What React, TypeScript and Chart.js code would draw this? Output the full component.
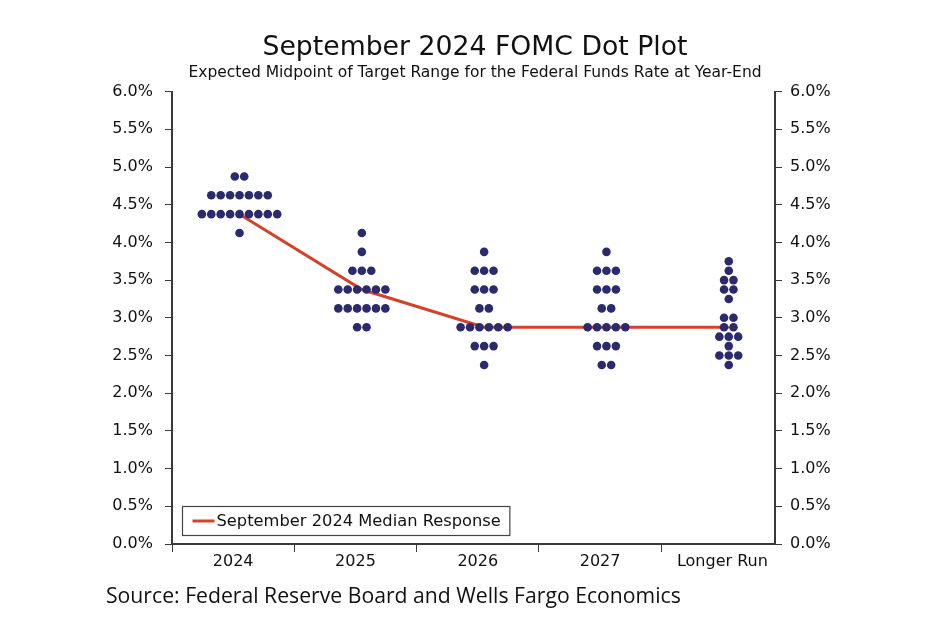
import React, { useEffect, useRef } from 'react';
import { Chart, registerables } from 'chart.js';

Chart.register(...registerables);

// ---------- data ----------
const categories = ['2024', '2025', '2026', '2027', 'Longer Run'];
// [rate (%), number of participants at that rate]
const dots2024 = [[4.875, 2], [4.625, 7], [4.375, 9], [4.125, 1]];
const dots2025 = [[4.125, 1], [3.875, 1], [3.625, 3], [3.375, 6], [3.125, 6], [2.875, 2]];
const dots2026 = [[3.875, 1], [3.625, 3], [3.375, 3], [3.125, 2], [2.875, 6], [2.625, 3], [2.375, 1]];
const dots2027 = [[3.875, 1], [3.625, 3], [3.375, 3], [3.125, 2], [2.875, 5], [2.625, 3], [2.375, 2]];
const dotsLongerRun = [[3.75, 1], [3.625, 1], [3.5, 2], [3.375, 2], [3.25, 1], [3.0, 2], [2.875, 2], [2.75, 3], [2.625, 1], [2.5, 3], [2.375, 1]];
const medianResponse = [4.375, 3.375, 2.875, 2.875, 2.875];
const yTickValues = [0, 0.5, 1, 1.5, 2, 2.5, 3, 3.5, 4, 4.5, 5, 5.5, 6];

const titleText = 'September 2024 FOMC Dot Plot';
const subtitleText = 'Expected Midpoint of Target Range for the Federal Funds Rate at Year-End';
const medianLabel = 'September 2024 Median Response';
const sourceText = 'Source: Federal Reserve Board and Wells Fargo Economics';

// ---------- style / layout constants ----------
const FONT = '"DejaVu Sans", Verdana, sans-serif';
const DOT_COLOR = '#2A2A6C';
const LINE_COLOR = '#D2432B';
const AXIS_COLOR = '#3a3a3a';
const TEXT_COLOR = '#111111';
const DOT_SPACING = 0.077; // x-units between adjacent dots in a row
const DOT_SHIFT = 0.052; // dots sit slightly right of the category centre

const columns = [dots2024, dots2025, dots2026, dots2027, dotsLongerRun];

function buildDots() {
  const pts: { x: number; y: number }[] = [];
  columns.forEach((col, ci) => {
    col.forEach(([rate, count]) => {
      for (let j = 0; j < count; j++) {
        pts.push({ x: ci + DOT_SHIFT + (j - (count - 1) / 2) * DOT_SPACING, y: rate });
      }
    });
  });
  return pts;
}

const insideLegend = {
  id: 'insideLegend',
  afterDraw(chart: any) {
    const ds = chart.data.datasets.find((d: any) => d.type === 'line');
    if (!ds) return;
    const { ctx, chartArea } = chart;
    ctx.save();
    ctx.font = `16.3px ${FONT}`;
    const tw = ctx.measureText(ds.label).width;
    const x = Math.round(chartArea.left + 10) + 0.5;
    const y = Math.round(chartArea.bottom - 38) + 0.5;
    const h = 29;
    const w = 34 + tw + 9;
    ctx.fillStyle = '#ffffff';
    ctx.fillRect(x, y, w, h);
    ctx.strokeStyle = '#444444';
    ctx.lineWidth = 1.2;
    ctx.strokeRect(x, y, w, h);
    ctx.strokeStyle = ds.borderColor;
    ctx.lineWidth = 3;
    ctx.beginPath();
    ctx.moveTo(x + 10, y + h / 2);
    ctx.lineTo(x + 32, y + h / 2);
    ctx.stroke();
    ctx.fillStyle = TEXT_COLOR;
    ctx.textBaseline = 'middle';
    ctx.textAlign = 'left';
    ctx.fillText(ds.label, x + 34, y + h / 2 + 1);
    ctx.restore();
  },
};

export default function App() {
  const canvasRef = useRef<HTMLCanvasElement | null>(null);

  useEffect(() => {
    if (!canvasRef.current) return;
    const chart = new Chart(canvasRef.current, {
      type: 'scatter',
      data: {
        datasets: [
          {
            type: 'scatter',
            label: 'Participants',
            data: buildDots(),
            backgroundColor: DOT_COLOR,
            borderWidth: 0,
            pointRadius: 4.3,
            order: 0,
          } as any,
          {
            type: 'line',
            label: medianLabel,
            data: medianResponse.map((v, i) => ({ x: i + DOT_SHIFT, y: v })),
            borderColor: LINE_COLOR,
            backgroundColor: LINE_COLOR,
            borderWidth: 3,
            pointRadius: 0,
            tension: 0,
            fill: false,
            order: 1,
          } as any,
        ],
      },
      options: {
        responsive: false,
        animation: false,
        layout: { padding: { left: 100, right: 100, top: 0, bottom: 56 } },
        plugins: {
          legend: { display: false },
          tooltip: { enabled: false },
          title: {
            display: true,
            text: titleText,
            color: TEXT_COLOR,
            font: { family: FONT, size: 26.7, weight: 'normal' },
            padding: { top: 32, bottom: 0 },
          },
          subtitle: {
            display: true,
            text: subtitleText,
            color: TEXT_COLOR,
            font: { family: FONT, size: 15.5, weight: 'normal' },
            padding: { top: 0, bottom: 9 },
          },
        },
        scales: {
          x: {
            type: 'linear',
            min: -0.5,
            max: 4.43,
            afterBuildTicks: (scale: any) => {
              scale.ticks = categories.map((_, i) => ({ value: i }));
            },
            afterFit: (scale: any) => {
              scale.height = 30;
            },
            ticks: {
              autoSkip: false,
              maxRotation: 0,
              padding: 0,
              color: TEXT_COLOR,
              font: { family: FONT, size: 16 },
              callback: (v: any) => categories[Math.round(Number(v))] ?? '',
            },
            grid: {
              offset: true,
              drawOnChartArea: false,
              drawTicks: true,
              tickLength: 8,
              tickColor: AXIS_COLOR,
              tickWidth: 1,
            },
            border: { display: true, color: AXIS_COLOR, width: 2 },
          },
          y: {
            type: 'linear',
            position: 'left',
            min: 0,
            max: 6,
            afterBuildTicks: (scale: any) => {
              scale.ticks = yTickValues.map((v) => ({ value: v }));
            },
            afterFit: (scale: any) => {
              scale.width = 72;
            },
            ticks: {
              padding: 12,
              color: TEXT_COLOR,
              font: { family: FONT, size: 16 },
              callback: (v: any) => Number(v).toFixed(1) + '%',
            },
            grid: {
              drawOnChartArea: false,
              tickLength: 7,
              tickColor: AXIS_COLOR,
              tickWidth: 1,
            },
            border: { display: true, color: AXIS_COLOR, width: 2 },
          },
          y2: {
            type: 'linear',
            position: 'right',
            min: 0,
            max: 6,
            afterBuildTicks: (scale: any) => {
              scale.ticks = yTickValues.map((v) => ({ value: v }));
            },
            afterFit: (scale: any) => {
              scale.width = 75;
            },
            ticks: {
              padding: 8,
              color: TEXT_COLOR,
              font: { family: FONT, size: 16 },
              callback: (v: any) => Number(v).toFixed(1) + '%',
            },
            grid: {
              drawOnChartArea: false,
              tickLength: 7,
              tickColor: AXIS_COLOR,
              tickWidth: 1,
            },
            border: { display: true, color: AXIS_COLOR, width: 2 },
          },
        },
      },
      plugins: [insideLegend],
    } as any);
    return () => chart.destroy();
  }, []);

  return (
    <div style={{ position: 'absolute', left: 0, top: 0, width: 950, height: 630, background: '#ffffff' }}>
      <canvas ref={canvasRef} width={950} height={630} style={{ display: 'block' }} />
      <div
        style={{
          position: 'absolute',
          left: 106,
          top: 584,
          fontFamily: '"Open Sans", sans-serif',
          fontSize: 21.2,
          lineHeight: 1,
          color: TEXT_COLOR,
          whiteSpace: 'nowrap',
        }}
      >
        {sourceText}
      </div>
    </div>
  );
}
